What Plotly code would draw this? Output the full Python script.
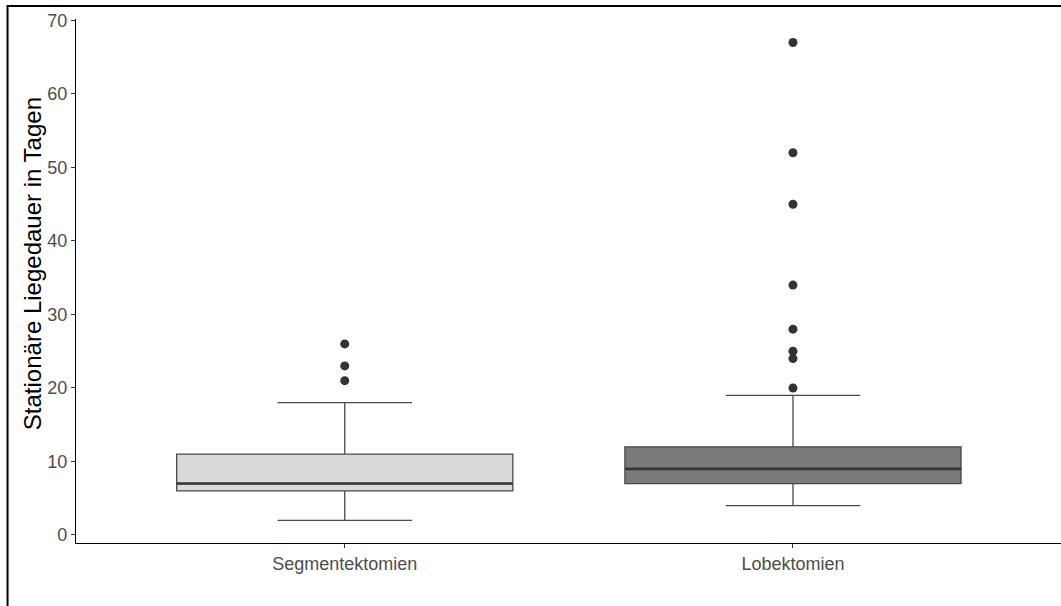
import plotly.graph_objects as go

categories = ["Segmentektomien", "Lobektomien"]
q1 = [6, 7]
median = [7, 9]
q3 = [11, 12]
lower_whisker = [2, 4]
upper_whisker = [18, 19]
outliers = [[26, 23, 21], [67, 52, 45, 34, 28, 25, 24, 20]]
fill_colors = ["#d9d9d9", "#7a7a7a"]
y_ticks = [0, 10, 20, 30, 40, 50, 60, 70]
y_title = "Stationäre Liegedauer in Tagen"

box_width = 0.75
positions = [1, 2]

fig = go.Figure()
for i, cat in enumerate(categories):
    fig.add_trace(go.Box(
        x=[positions[i]], q1=[q1[i]], median=[median[i]], q3=[q3[i]],
        lowerfence=[lower_whisker[i]], upperfence=[upper_whisker[i]],
        width=box_width, whiskerwidth=0.4,
        fillcolor=fill_colors[i], line=dict(color="#4a4a4a", width=1.3),
        boxpoints=False, showlegend=False, name=cat, hoverinfo="skip",
    ))
    fig.add_trace(go.Scatter(
        x=[positions[i] - box_width / 2, positions[i] + box_width / 2],
        y=[median[i], median[i]], mode="lines",
        line=dict(color="#333333", width=2.6), showlegend=False, hoverinfo="skip",
    ))
    fig.add_trace(go.Scatter(
        x=[positions[i]] * len(outliers[i]), y=outliers[i], mode="markers",
        marker=dict(color="#333333", size=9), showlegend=False, hoverinfo="skip",
    ))

fig.add_shape(type="rect", xref="paper", yref="paper",
              x0=-0.0695, x1=1.1, y0=-0.3, y1=1.0248,
              line=dict(color="black", width=2), fillcolor="rgba(0,0,0,0)", layer="above")

fig.add_annotation(text=y_title, textangle=-90, xref="paper", yref="paper",
                   x=-0.0447, y=0.534, xanchor="center", yanchor="middle",
                   showarrow=False, font=dict(size=24, color="black"))

fig.update_layout(
    width=1061, height=606,
    margin=dict(l=76, r=0, t=19, b=63),
    paper_bgcolor="white", plot_bgcolor="white",
    font=dict(family="Liberation Sans, Arial, sans-serif", color="#4d4d4d"),
    xaxis=dict(
        range=[0.4004, 2.598], tickvals=positions, ticktext=categories,
        showgrid=False, zeroline=False, showline=True, linecolor="black", linewidth=1.3,
        ticks="outside", ticklen=4, tickcolor="#333333", tickfont=dict(size=18, color="#4d4d4d"),
    ),
    yaxis=dict(
        range=[-1.09, 70.2], tickvals=y_ticks,
        showgrid=False, zeroline=False, showline=True, linecolor="black", linewidth=1.3,
        ticks="outside", ticklen=4, tickcolor="#333333", tickfont=dict(size=18, color="#4d4d4d"),
    ),
)

fig.write_html("out.html")
